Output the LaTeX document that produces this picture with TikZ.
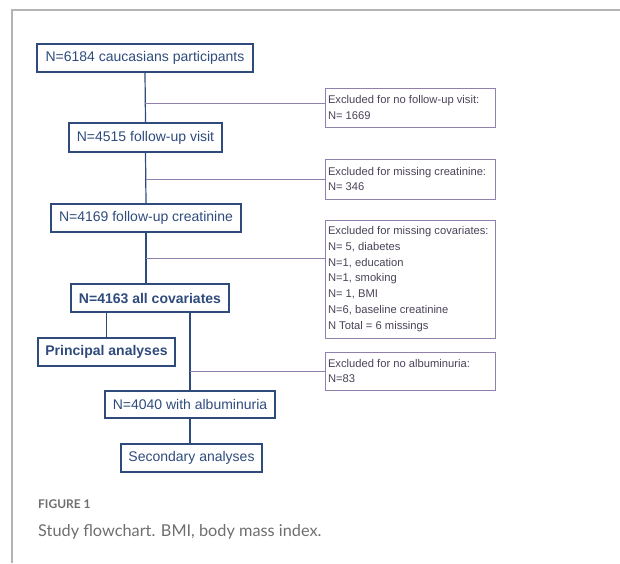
\documentclass[tikz,border=0pt]{standalone}
\usepackage{fontspec}
\setmainfont{Liberation Sans}
\newfontfamily\capfont{Lato}
\usepackage{tikz}
\usetikzlibrary{positioning,calc}

\definecolor{flowblue}{HTML}{2F4B7C}
\definecolor{exclpurple}{HTML}{9080AE}
\definecolor{excltext}{HTML}{4A4258}
\definecolor{capgrey}{HTML}{6E6E6E}
\definecolor{framegrey}{HTML}{B4B4B4}

\begin{document}
\begin{tikzpicture}[x=1pt,y=-1pt,
		mainbox/.style={draw=flowblue,line width=1.3pt,text=flowblue,font=\fontsize{14}{16}\selectfont,inner sep=0pt,minimum height=28pt},
		exclbox/.style={draw=exclpurple,line width=1pt,text=excltext,font=\fontsize{11.2}{15.7}\selectfont,inner xsep=3pt,inner ysep=0pt,text width=164pt,align=flush left,minimum width=170pt},
		mainline/.style={draw=flowblue,line width=1.2pt},
		exclline/.style={draw=exclpurple,line width=1pt}]
		
		\useasboundingbox (0,0) rectangle (620,563);
		
		% Frame
		\draw[framegrey,line width=1.2pt] (620,10) -- (12,10) -- (12,563);
		
		% Main boxes
		\node[mainbox,minimum width=216pt] (N1) at (145,58) {N=6184 caucasians participants};
		\node[mainbox,minimum width=153pt,minimum height=29pt] (N2) at (145.5,137.5) {N=4515 follow-up visit};
		\node[mainbox,minimum width=190pt] (N3) at (146,218) {N=4169 follow-up creatinine};
		\node[mainbox,minimum width=158pt,font=\fontsize{14}{16}\selectfont\bfseries] (N4) at (150,298) {N=4163 all covariates};
		\node[mainbox,minimum width=137pt,font=\fontsize{14}{16}\selectfont\bfseries] (P) at (106.5,352) {Principal analyses};
		\node[mainbox,minimum width=170pt,minimum height=27pt] (N5) at (190,404.5) {N=4040 with albuminuria};
		\node[mainbox,minimum width=141pt] (S) at (191.5,458) {Secondary analyses};
		
		% Exclusion boxes
		\node[exclbox,minimum height=39pt] (E1) at (410,107.5) {Excluded for no follow-up visit:\\N= 1669};
		\node[exclbox,minimum height=40pt] (E2) at (410,179) {Excluded for missing creatinine:\\N= 346};
		\node[exclbox,minimum height=118pt] (E3) at (410,279) {Excluded for missing covariates:\\N= 5, diabetes\\N=1, education\\N=1, smoking\\N= 1, BMI\\N=6, baseline creatinine\\N Total = 6 missings};
		\node[exclbox,minimum height=38pt] (E4) at (410,371) {Excluded for no albuminuria:\\N=83};
		
		% Flow lines
		\draw[mainline] (N1.south) -- (N2.north);
		\draw[mainline] (N2.south) -- (N3.north);
		\draw[mainline] (N3.south) -- (N3.south |- N4.north);
		\draw[mainline] (P.north) -- (P.north |- N4.south);
		\draw[mainline] (N5.north |- N4.south) -- (N5.north);
		\draw[mainline] (N5.south) -- (N5.south |- S.north);
		
		% Branches to the exclusions
		\coordinate (B1) at (145,103);
		\coordinate (B3) at (146,258);
		\draw[exclline] (B1) -- (B1 -| E1.west);
		\draw[exclline] (N2.south |- E2.west) -- (E2.west);
		\draw[exclline] (B3) -- (B3 -| E3.west);
		\draw[exclline] (N5.north |- E4.west) -- (E4.west);
		
		% Caption
		\node[anchor=base west,inner sep=0pt,text=capgrey,font=\capfont\fontsize{12}{14}\selectfont\bfseries] (F) at (38,508) {FIGURE 1};
		\node[anchor=base west,inner sep=0pt,text=capgrey,font=\capfont\fontsize{16.3}{20}\selectfont] (C) at (38,536) {Study flowchart. BMI, body mass index.};
		
	\end{tikzpicture}
\end{document}
